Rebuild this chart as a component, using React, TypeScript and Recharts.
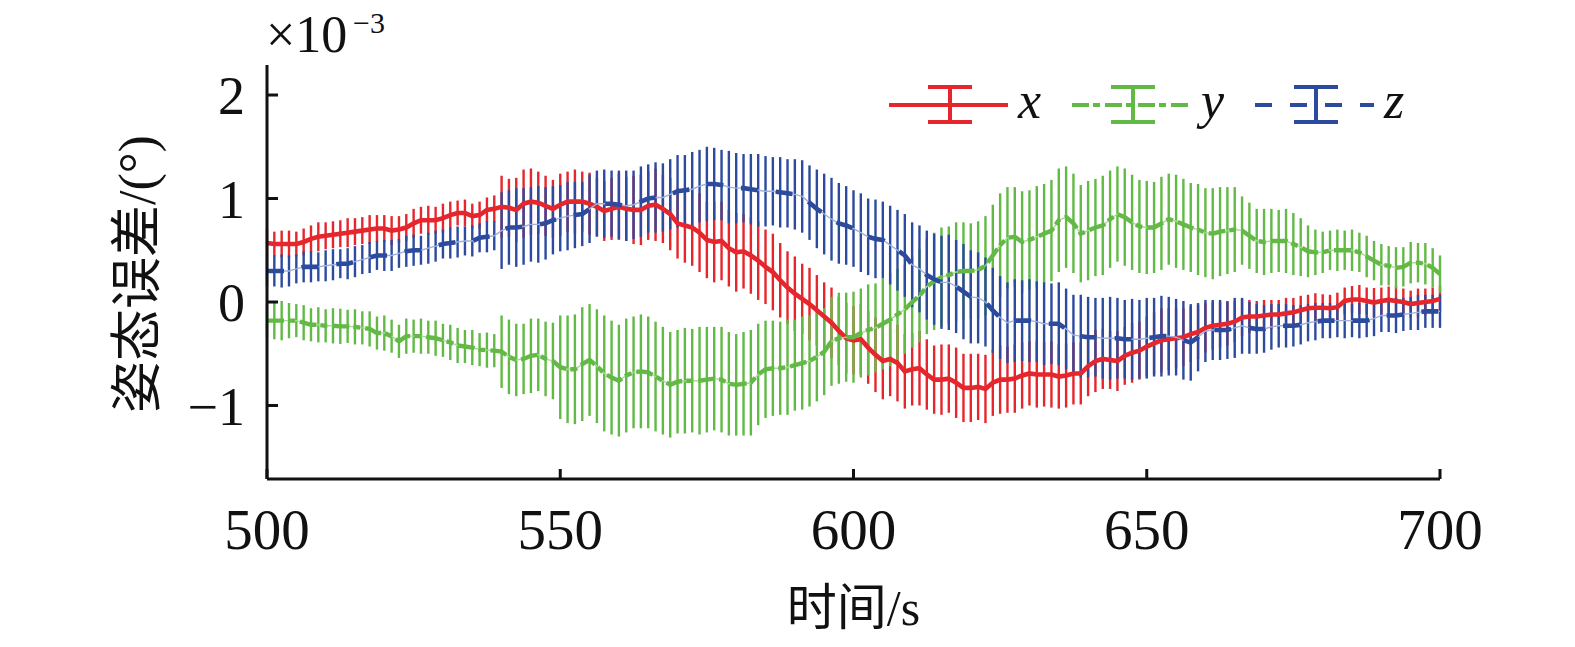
import React from 'react';
import { ComposedChart, Line, XAxis, YAxis, ErrorBar, Legend, Label } from 'recharts';

const RED = '#e5262d';
const GREEN = '#62b946';
const BLUE = '#2d4b9e';
const SERIF = "'Liberation Serif', 'Times New Roman', serif";
const CJK = "'Liberation Serif', 'Noto Sans CJK SC', serif";

const T_START = 500;
const T_STEP = 1.25;
const xTicks = [500, 550, 600, 650, 700];
const yTicks = [-1, 0, 1, 2];

// x (red)
const xVals = [
  0.57, 0.56, 0.56, 0.56, 0.56, 0.58, 0.61, 0.63, 0.64, 0.65,
  0.66, 0.67, 0.68, 0.69, 0.70, 0.71, 0.71, 0.69, 0.70, 0.72,
  0.76, 0.79, 0.79, 0.79, 0.81, 0.84, 0.86, 0.86, 0.83, 0.84,
  0.89, 0.90, 0.92, 0.91, 0.89, 0.95, 0.97, 0.96, 0.93, 0.90,
  0.94, 0.97, 0.97, 0.97, 0.95, 0.92, 0.88, 0.90, 0.92, 0.90,
  0.89, 0.89, 0.93, 0.94, 0.90, 0.85, 0.76, 0.74, 0.72, 0.67,
  0.60, 0.58, 0.59, 0.52, 0.48, 0.49, 0.45, 0.40, 0.34, 0.29,
  0.21, 0.14, 0.08, 0.03, -0.02, -0.08, -0.14, -0.20, -0.28, -0.35,
  -0.37, -0.36, -0.44, -0.51, -0.57, -0.55, -0.59, -0.67, -0.65, -0.64,
  -0.70, -0.75, -0.75, -0.74, -0.78, -0.83, -0.83, -0.82, -0.84, -0.78,
  -0.75, -0.75, -0.74, -0.71, -0.69, -0.70, -0.70, -0.70, -0.72, -0.71,
  -0.69, -0.69, -0.62, -0.57, -0.55, -0.56, -0.57, -0.52, -0.49, -0.47,
  -0.43, -0.40, -0.37, -0.36, -0.35, -0.34, -0.31, -0.29, -0.25, -0.23,
  -0.22, -0.21, -0.19, -0.15, -0.14, -0.14, -0.13, -0.12, -0.12, -0.11,
  -0.10, -0.08, -0.06, -0.055, -0.055, -0.06, -0.05, 0.01, 0.025, 0.025,
  0.01, -0.005, 0.01, 0.02, 0.01, 0.0, -0.02, -0.01, 0.0, 0.01,
  0.03,
];
const xErr = [
  0.13, 0.12, 0.13, 0.13, 0.12, 0.13, 0.13, 0.14, 0.13, 0.13,
  0.13, 0.14, 0.13, 0.13, 0.14, 0.13, 0.13, 0.14, 0.13, 0.13,
  0.14, 0.13, 0.14, 0.13, 0.14, 0.13, 0.12, 0.13, 0.12, 0.13,
  0.12, 0.13, 0.30, 0.28, 0.31, 0.33, 0.32, 0.30, 0.29, 0.28,
  0.30, 0.29, 0.31, 0.29, 0.30, 0.28, 0.29, 0.30, 0.32, 0.31,
  0.33, 0.34, 0.33, 0.35, 0.33, 0.35, 0.34, 0.36, 0.37, 0.38,
  0.37, 0.39, 0.38, 0.37, 0.38, 0.36, 0.37, 0.38, 0.36, 0.37,
  0.36, 0.35, 0.36, 0.34, 0.35, 0.34, 0.33, 0.34, 0.33, 0.34,
  0.33, 0.34, 0.35, 0.36, 0.37, 0.36, 0.37, 0.36, 0.35, 0.36,
  0.34, 0.33, 0.34, 0.33, 0.34, 0.33, 0.33, 0.32, 0.33, 0.32,
  0.33, 0.32, 0.33, 0.32, 0.31, 0.32, 0.31, 0.32, 0.31, 0.31,
  0.30, 0.30, 0.29, 0.30, 0.29, 0.28, 0.29, 0.28, 0.29, 0.28,
  0.29, 0.30, 0.31, 0.30, 0.29, 0.28, 0.27, 0.26, 0.24, 0.23,
  0.22, 0.21, 0.20, 0.18, 0.16, 0.15, 0.15, 0.14, 0.14, 0.15,
  0.14, 0.14, 0.13, 0.14, 0.13, 0.13, 0.14, 0.13, 0.13, 0.14,
  0.13, 0.14, 0.13, 0.13, 0.14, 0.13, 0.13, 0.14, 0.13, 0.13,
  0.13,
];

// y (green)
const yVals = [
  -0.18, -0.18, -0.18, -0.18, -0.18, -0.20, -0.22, -0.22, -0.23, -0.23,
  -0.235, -0.235, -0.24, -0.25, -0.26, -0.30, -0.30, -0.33, -0.38, -0.33,
  -0.33, -0.33, -0.34, -0.35, -0.37, -0.39, -0.42, -0.43, -0.44, -0.46,
  -0.465, -0.47, -0.48, -0.53, -0.56, -0.55, -0.52, -0.51, -0.55, -0.57,
  -0.63, -0.65, -0.65, -0.60, -0.56, -0.62, -0.69, -0.73, -0.76, -0.71,
  -0.68, -0.67, -0.68, -0.72, -0.76, -0.80, -0.77, -0.76, -0.76, -0.76,
  -0.75, -0.74, -0.75, -0.79, -0.80, -0.79, -0.78, -0.70, -0.65, -0.64,
  -0.64, -0.63, -0.61, -0.59, -0.57, -0.53, -0.48, -0.38, -0.35, -0.34,
  -0.34, -0.30, -0.27, -0.25, -0.21, -0.17, -0.12, -0.07, 0.00, 0.06,
  0.15, 0.20, 0.24, 0.26, 0.29, 0.30, 0.30, 0.31, 0.35, 0.45,
  0.55, 0.62, 0.63, 0.58, 0.60, 0.63, 0.66, 0.69, 0.79, 0.82,
  0.76, 0.66, 0.69, 0.72, 0.74, 0.80, 0.85, 0.82, 0.77, 0.73,
  0.72, 0.72, 0.76, 0.80, 0.78, 0.75, 0.72, 0.70, 0.67, 0.66,
  0.68, 0.69, 0.70, 0.69, 0.64, 0.59, 0.58, 0.59, 0.59, 0.59,
  0.56, 0.53, 0.49, 0.48, 0.48, 0.50, 0.50, 0.50, 0.50, 0.48,
  0.44, 0.40, 0.36, 0.35, 0.33, 0.34, 0.38, 0.38, 0.37, 0.33,
  0.27,
];
const yErr = [
  0.16, 0.18, 0.19, 0.17, 0.16, 0.17, 0.16, 0.17, 0.16, 0.17,
  0.17, 0.16, 0.17, 0.16, 0.17, 0.16, 0.17, 0.16, 0.16, 0.17,
  0.16, 0.17, 0.16, 0.17, 0.16, 0.17, 0.17, 0.16, 0.17, 0.16,
  0.17, 0.16, 0.35, 0.36, 0.35, 0.34, 0.36, 0.35, 0.36, 0.37,
  0.50, 0.52, 0.53, 0.55, 0.54, 0.55, 0.56, 0.55, 0.54, 0.55,
  0.54, 0.55, 0.54, 0.53, 0.52, 0.51, 0.50, 0.51, 0.50, 0.52,
  0.51, 0.50, 0.51, 0.50, 0.49, 0.50, 0.51, 0.49, 0.47, 0.46,
  0.45, 0.46, 0.44, 0.45, 0.44, 0.43, 0.42, 0.43, 0.44, 0.43,
  0.44, 0.43, 0.44, 0.43, 0.44, 0.45, 0.44, 0.43, 0.44, 0.45,
  0.46, 0.47, 0.48, 0.47, 0.48, 0.47, 0.46, 0.47, 0.48, 0.49,
  0.50, 0.49, 0.48, 0.49, 0.48, 0.49, 0.48, 0.49, 0.50, 0.49,
  0.48, 0.47, 0.48, 0.47, 0.48, 0.47, 0.46, 0.47, 0.46, 0.45,
  0.45, 0.44, 0.45, 0.44, 0.45, 0.44, 0.43, 0.44, 0.43, 0.44,
  0.43, 0.42, 0.41, 0.33, 0.32, 0.31, 0.32, 0.31, 0.30, 0.31,
  0.30, 0.28, 0.25, 0.22, 0.20, 0.19, 0.20, 0.19, 0.20, 0.19,
  0.20, 0.19, 0.20, 0.19, 0.20, 0.19, 0.20, 0.19, 0.20, 0.19,
  0.18,
];

// z (blue)
const zVals = [
  0.30, 0.30, 0.30, 0.30, 0.32, 0.34, 0.34, 0.34, 0.35, 0.36,
  0.37, 0.37, 0.39, 0.41, 0.43, 0.45, 0.45, 0.45, 0.47, 0.49,
  0.50, 0.50, 0.52, 0.54, 0.56, 0.57, 0.58, 0.59, 0.59, 0.62,
  0.63, 0.64, 0.69, 0.72, 0.72, 0.73, 0.75, 0.75, 0.76, 0.79,
  0.81, 0.83, 0.84, 0.85, 0.90, 0.95, 0.95, 0.95, 0.94, 0.93,
  0.94, 0.97, 1.00, 1.01, 1.01, 1.04, 1.07, 1.08, 1.09, 1.12,
  1.14, 1.14, 1.13, 1.11, 1.10, 1.10, 1.09, 1.08, 1.07, 1.07,
  1.06, 1.05, 1.04, 1.02, 0.96, 0.90, 0.85, 0.80, 0.76, 0.74,
  0.71, 0.67, 0.63, 0.61, 0.60, 0.55, 0.50, 0.45, 0.36, 0.32,
  0.26, 0.22, 0.19, 0.19, 0.15, 0.10, 0.05, 0.04, 0.00, -0.08,
  -0.15, -0.20, -0.18, -0.18, -0.18, -0.19, -0.21, -0.21, -0.21, -0.26,
  -0.32, -0.33, -0.34, -0.34, -0.35, -0.35, -0.35, -0.36, -0.36, -0.36,
  -0.35, -0.34, -0.33, -0.33, -0.34, -0.37, -0.39, -0.34, -0.28, -0.27,
  -0.27, -0.27, -0.25, -0.23, -0.25, -0.26, -0.26, -0.24, -0.23, -0.23,
  -0.23, -0.22, -0.20, -0.19, -0.18, -0.18, -0.18, -0.18, -0.18, -0.18,
  -0.18, -0.16, -0.13, -0.13, -0.13, -0.12, -0.11, -0.10, -0.09, -0.09,
  -0.09,
];
const zErr = [
  0.15, 0.15, 0.16, 0.15, 0.14, 0.15, 0.15, 0.14, 0.15, 0.15,
  0.14, 0.15, 0.15, 0.14, 0.15, 0.14, 0.15, 0.15, 0.14, 0.15,
  0.15, 0.14, 0.15, 0.15, 0.14, 0.15, 0.15, 0.14, 0.15, 0.14,
  0.15, 0.14, 0.37, 0.36, 0.38, 0.37, 0.36, 0.37, 0.35, 0.33,
  0.32, 0.33, 0.32, 0.31, 0.33, 0.32, 0.33, 0.32, 0.33, 0.34,
  0.33, 0.34, 0.33, 0.34, 0.33, 0.34, 0.35, 0.34, 0.36, 0.35,
  0.36, 0.35, 0.34, 0.35, 0.34, 0.33, 0.34, 0.35, 0.34, 0.33,
  0.34, 0.33, 0.34, 0.35, 0.36, 0.38, 0.39, 0.40, 0.39, 0.38,
  0.37, 0.38, 0.37, 0.38, 0.37, 0.38, 0.39, 0.40, 0.41, 0.42,
  0.43, 0.44, 0.45, 0.46, 0.45, 0.46, 0.45, 0.44, 0.43, 0.41,
  0.40, 0.39, 0.40, 0.39, 0.40, 0.39, 0.40, 0.39, 0.40, 0.39,
  0.39, 0.40, 0.39, 0.38, 0.39, 0.40, 0.39, 0.38, 0.39, 0.38,
  0.39, 0.38, 0.39, 0.38, 0.37, 0.38, 0.37, 0.33, 0.30, 0.29,
  0.29, 0.28, 0.29, 0.27, 0.25, 0.24, 0.23, 0.22, 0.21, 0.21,
  0.20, 0.19, 0.18, 0.18, 0.17, 0.17, 0.16, 0.17, 0.16, 0.17,
  0.16, 0.17, 0.16, 0.16, 0.17, 0.16, 0.16, 0.17, 0.16, 0.16,
  0.16,
];

const seriesNames = ['x', 'y', 'z'];
const Y_DASH = '17 4 7 5';
const Z_DASH = '17 18';

const times = xVals.map((_, i) => T_START + i * T_STEP);
const data = times.map((t, i) => ({
  t,
  x: xVals[i], xe: xErr[i],
  y: yVals[i], ye: yErr[i],
  z: zVals[i], ze: zErr[i],
}));

const legendItems = [
  { label: seriesNames[0], color: RED, dash: undefined as string | undefined },
  { label: seriesNames[1], color: GREEN, dash: Y_DASH },
  { label: seriesNames[2], color: BLUE, dash: Z_DASH },
];

function LegendContent() {
  return (
    <svg width={560} height={64} style={{ overflow: 'visible', display: 'block', position: 'absolute', left: 0, top: 0 }}>
      {legendItems.map((it, k) => {
        const ox = k * 183;
        return (
          <g key={it.label}>
            <line x1={ox + 9} x2={ox + 128} y1={30} y2={30} stroke={it.color} strokeWidth={4} strokeDasharray={it.dash} />
            <line x1={ox + 70} x2={ox + 70} y1={11} y2={48} stroke={it.color} strokeWidth={4} />
            <line x1={ox + 48} x2={ox + 92} y1={12} y2={12} stroke={it.color} strokeWidth={4} />
            <line x1={ox + 48} x2={ox + 92} y1={47} y2={47} stroke={it.color} strokeWidth={4} />
            <text x={ox + 138} y={43} fontFamily={SERIF} fontStyle="italic" fontSize={52} fill="#111">
              {it.label}
            </text>
          </g>
        );
      })}
    </svg>
  );
}

const fmtY = (v: number) => (v < 0 ? `\u2212${Math.abs(v)}` : `${v}`);

const Y_AXIS_W = 80;
const X_AXIS_H = 60;

const YTitle = (props: any) => {
  const vb = props.viewBox || { x: 187, y: 65, width: 80, height: 414 };
  const ax = vb.x + (vb.width || 0);
  const cx = ax - 112;
  const cy = vb.y + vb.height / 2 + 2;
  return (
    <g>
      <text x={cx} y={cy} transform={`rotate(-90 ${cx} ${cy})`} textAnchor="middle" fontSize={52} fontFamily={CJK} fill="#111">
        姿态误差/(°)
      </text>
      <text x={ax - 1} y={vb.y - 13} fontSize={52} fontFamily={SERIF} fill="#111">×10</text>
      <text x={ax + 86} y={vb.y - 32} fontSize={30} fontFamily={SERIF} fill="#111">−3</text>
    </g>
  );
};

const XTitle = (props: any) => {
  const vb = props.viewBox || { x: 267, y: 479, width: 1173 };
  return (
    <text x={vb.x + vb.width / 2} y={vb.y + 146} textAnchor="middle" fontSize={50} fontFamily={CJK} fill="#111">
      时间/s
    </text>
  );
};

export default function App() {
  return (
    <div style={{ position: 'absolute', left: 0, top: 0, width: 1575, height: 647, background: '#fff' }}>
      <ComposedChart
        width={1575}
        height={647}
        data={data}
        margin={{ top: 65, right: 135, bottom: 168 - X_AXIS_H, left: 267 - Y_AXIS_W }}
      >
        <XAxis
          dataKey="t"
          type="number"
          domain={[500, 700]}
          ticks={xTicks}
          interval={0}
          height={X_AXIS_H}
          axisLine={{ stroke: '#111', strokeWidth: 3 }}
          tickLine={{ stroke: '#111', strokeWidth: 3 }}
          tickSize={-10}
          tickMargin={40}
          tick={{ fill: '#111', fontSize: 57, fontFamily: SERIF }}
        >
          <Label content={XTitle} />
        </XAxis>
        <YAxis
          type="number"
          domain={[-1.71, 2.29]}
          ticks={yTicks}
          interval={0}
          width={Y_AXIS_W}
          axisLine={{ stroke: '#111', strokeWidth: 3 }}
          tickLine={{ stroke: '#111', strokeWidth: 3 }}
          tickSize={-11}
          tickMargin={33}
          tickFormatter={fmtY}
          tick={{ fill: '#111', fontSize: 54, fontFamily: SERIF }}
        >
          <Label content={YTitle} />
        </YAxis>

        {/* error bars first */}
        <Line dataKey="x" stroke="none" dot={false} activeDot={false} legendType="none" isAnimationActive={false}>
          <ErrorBar dataKey="xe" width={0} stroke={RED} strokeWidth={2.4} isAnimationActive={false} />
        </Line>
        <Line dataKey="y" stroke="none" dot={false} activeDot={false} legendType="none" isAnimationActive={false}>
          <ErrorBar dataKey="ye" width={0} stroke={GREEN} strokeWidth={2.4} isAnimationActive={false} />
        </Line>
        <Line dataKey="z" stroke="none" dot={false} activeDot={false} legendType="none" isAnimationActive={false}>
          <ErrorBar dataKey="ze" width={0} stroke={BLUE} strokeWidth={2.4} isAnimationActive={false} />
        </Line>

        {/* lines on top */}
        <Line dataKey="x" type="linear" stroke={RED} strokeWidth={4.6} dot={false} activeDot={false} legendType="none" isAnimationActive={false} />
        <Line dataKey="y" type="linear" stroke="#a9d79a" strokeWidth={1.4} dot={false} activeDot={false} legendType="none" isAnimationActive={false} />
        <Line dataKey="y" type="linear" stroke={GREEN} strokeWidth={4.4} strokeDasharray={Y_DASH} dot={false} activeDot={false} legendType="none" isAnimationActive={false} />
        <Line dataKey="z" type="linear" stroke="#9fb0dc" strokeWidth={1.4} dot={false} activeDot={false} legendType="none" isAnimationActive={false} />
        <Line dataKey="z" type="linear" stroke={BLUE} strokeWidth={4.6} strokeDasharray={Z_DASH} dot={false} activeDot={false} legendType="none" isAnimationActive={false} />

        <Legend
          content={LegendContent}
          layout="horizontal"
          verticalAlign="middle"
          align="right"
          wrapperStyle={{ position: 'absolute', left: 880, top: 75, right: 'auto', width: 0, height: 0, overflow: 'visible' }}
        />
      </ComposedChart>
    </div>
  );
}
